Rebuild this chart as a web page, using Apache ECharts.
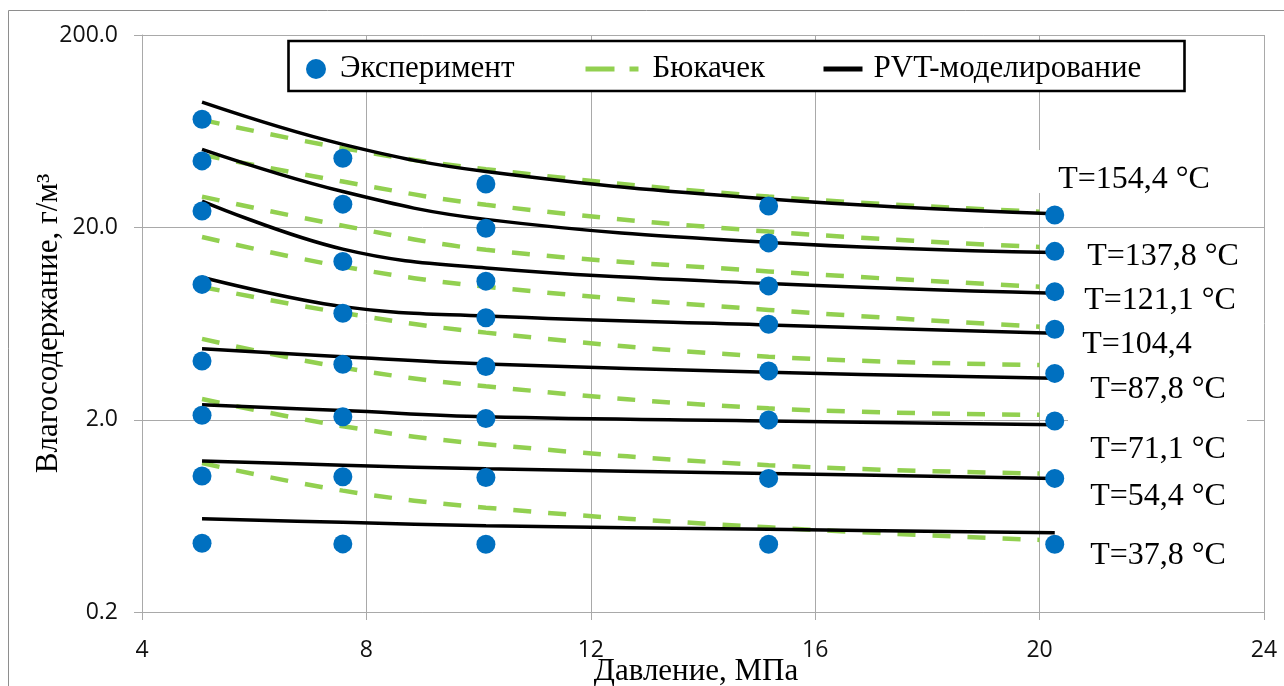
<!DOCTYPE html>
<html>
<head>
<meta charset="utf-8">
<script src="https://cdn.jsdelivr.net/npm/echarts@6/dist/echarts.min.js"></script>
<style>
  html, body { margin: 0; padding: 0; background: #fff; }
  #chart { width: 1284px; height: 686px; }
</style>
</head>
<body>
<div id="chart"></div>
<script>
// Pressure points, MPa
const pressureExp = [5.07, 7.58, 10.13, 15.17, 20.27];
const pressurePvt = [5.07, 7.58, 10.13, 15.17, 20.27];
const pressureBuk = [5.07, 7.58, 10.13, 15.17, 20.0];

// Isotherm captions, from hottest to coldest
const isothermLabels = ['T=154,4 °C', 'T=137,8 °C', 'T=121,1 °C', 'T=104,4',
                        'T=87,8 °C', 'T=71,1 °C', 'T=54,4 °C', 'T=37,8 °C'];

// Water content, g/m3 — measured
const experiment = [
  [73.0, 45.7, 33.6, 25.8, 23.2],
  [44.3, 26.4, 19.8, 16.6, 15.0],
  [24.3, 13.3, 10.5, 9.92, 9.26],
  [10.1, 7.15, 6.78, 6.27, 5.90],
  [4.04, 3.88, 3.78, 3.58, 3.48],
  [2.11, 2.07, 2.03, 1.99, 1.97],
  [1.02, 1.01, 1.00, 0.99, 0.99],
  [0.455, 0.452, 0.450, 0.450, 0.450]
];

// Water content, g/m3 — Bukacek correlation
const bukacek = [
  [72.4, 51.6, 40.1, 28.9, 24.1],
  [47.6, 34.6, 26.2, 19.0, 15.8],
  [28.9, 20.4, 15.3, 11.8, 9.83],
  [17.8, 12.5, 9.83, 7.44, 6.09],
  [9.80, 7.18, 5.67, 4.25, 3.85],
  [5.26, 3.73, 2.98, 2.29, 2.12],
  [2.56, 1.85, 1.49, 1.16, 1.05],
  [1.19, 0.855, 0.697, 0.551, 0.474]
];

// Water content, g/m3 — PVT model
const pvt = [
  [89.5, 54.0, 39.0, 28.1, 23.5],
  [50.9, 30.7, 22.0, 16.7, 14.8],
  [27.4, 15.4, 12.3, 10.2, 9.08],
  [11.0, 7.74, 6.92, 6.22, 5.63],
  [4.68, 4.25, 3.90, 3.53, 3.28],
  [2.39, 2.23, 2.07, 1.97, 1.88],
  [1.22, 1.16, 1.11, 1.05, 0.99],
  [0.61, 0.585, 0.562, 0.538, 0.517]
];

const NAME_EXP = 'Эксперимент';
const NAME_BUK = 'Бюкачек';
const NAME_PVT = 'PVT-моделирование';

const SERIF = '"Liberation Serif", "Times New Roman", serif';
const SANS = '"Open Sans", "Noto Sans", sans-serif';
const GRID_COLOR = '#a9a9a9';

const pairs = (xs, ys) => ys.map((y, i) => [xs[i], y]);

const series = [];
bukacek.forEach(row => series.push({
  type: 'line', name: NAME_BUK, data: pairs(pressureBuk, row),
  symbol: 'none', showSymbol: false, smooth: 0.4, silent: true,
  lineStyle: { color: '#92D050', width: 4.5, type: [18, 17], cap: 'butt' },
  itemStyle: { color: '#92D050' }, z: 2
}));
pvt.forEach(row => series.push({
  type: 'line', name: NAME_PVT, data: pairs(pressurePvt, row),
  symbol: 'none', showSymbol: false, smooth: 0.4, silent: true,
  lineStyle: { color: '#000', width: 3.5 },
  itemStyle: { color: '#000' }, z: 2
}));
series.push({
  type: 'scatter', name: NAME_EXP,
  data: experiment.flatMap(row => pairs(pressureExp, row)),
  symbol: 'circle', symbolSize: 19, silent: true,
  itemStyle: { color: '#0070C0', opacity: 1 }, z: 3
});

const legendText = { fontFamily: SERIF, fontSize: 31, color: '#000', lineHeight: 36 };
const hidden = { color: 'rgba(0,0,0,0)', borderWidth: 0 };

const labelPos = [
  [1134, 180], [1163, 257], [1160, 301], [1137, 345],
  [1158, 390], [1158, 450], [1158, 497], [1158, 556]
];

const graphics = [
  // chart frame
  { type: 'rect', z: 0, silent: true,
    shape: { x: 8.5, y: 10.5, width: 1400, height: 800 },
    style: { fill: 'none', stroke: '#8e8e8e', lineWidth: 1 } },
  // legend frame
  { type: 'rect', z: 3, silent: true,
    shape: { x: 288.5, y: 41, width: 896, height: 50 },
    style: { fill: '#fff', stroke: '#000', lineWidth: 2.6 } },
  // white backing behind two captions
  { type: 'rect', z: 1, silent: true,
    shape: { x: 1034, y: 150, width: 190, height: 43 }, style: { fill: '#fff' } },
  { type: 'rect', z: 1, silent: true,
    shape: { x: 1068, y: 374, width: 179, height: 47 }, style: { fill: '#fff' } }
];
isothermLabels.forEach((t, i) => graphics.push({
  type: 'text', z: 5, silent: true,
  x: labelPos[i][0], y: labelPos[i][1],
  style: { text: t, font: '32px ' + SERIF, fill: '#000', align: 'center', verticalAlign: 'middle' }
}));

const chart = echarts.init(document.getElementById('chart'), null, { renderer: 'canvas' });
chart.setOption({
  animation: false,
  backgroundColor: '#fff',
  grid: { left: 142, right: 20, top: 35, bottom: 74, containLabel: false, outerBoundsMode: 'none' },
  xAxis: {
    type: 'value', min: 4, max: 24, interval: 4,
    name: 'Давление, МПа', nameLocation: 'middle', nameGap: 44, nameMoveOverlap: false,
    nameTextStyle: { fontFamily: SERIF, fontSize: 31, color: '#000', padding: [0, 14, 0, 0] },
    axisLine: { show: true, lineStyle: { color: GRID_COLOR, width: 1 } },
    axisTick: { show: true, length: 8, lineStyle: { color: GRID_COLOR, width: 1 } },
    axisLabel: { fontFamily: SANS, fontSize: 23, color: '#111', margin: 24,
                 padding: [3, 0, 0, 0] },
    splitLine: { show: true, lineStyle: { color: GRID_COLOR, width: 1 } }
  },
  yAxis: {
    type: 'log', logBase: 10, min: 0.2, max: 200, interval: 1,
    name: 'Влагосодержание, г/м³', nameLocation: 'middle', nameGap: 78, nameMoveOverlap: false,
    nameTextStyle: { fontFamily: SERIF, fontSize: 31, color: '#000' },
    axisLine: { show: true, lineStyle: { color: GRID_COLOR, width: 1 } },
    axisTick: { show: true, length: 8, lineStyle: { color: GRID_COLOR, width: 1 } },
    axisLabel: { fontFamily: SANS, fontSize: 23, color: '#111', margin: 24,
                 formatter: v => Number(Number(v).toPrecision(2)).toFixed(1) },
    splitLine: { show: true, lineStyle: { color: GRID_COLOR, width: 1 } },
    minorTick: { show: false }, minorSplitLine: { show: false }
  },
  legend: [
    { data: [NAME_EXP], left: 306, top: 51, padding: 0, itemWidth: 20, itemHeight: 20,
      selectedMode: false, textStyle: Object.assign({ padding: [0, 0, 0, 9] }, legendText) },
    { data: [NAME_BUK], left: 583, top: 51, padding: 0, itemWidth: 53, itemHeight: 20,
      selectedMode: false, itemStyle: hidden,
      lineStyle: { color: '#92D050', width: 5, type: [29, 15], cap: 'butt' },
      textStyle: Object.assign({ padding: [0, 0, 0, 9] }, legendText) },
    { data: [NAME_PVT], left: 821, top: 51, padding: 0, itemWidth: 39, itemHeight: 20,
      selectedMode: false, itemStyle: hidden,
      lineStyle: { color: '#000', width: 5, type: 'solid' },
      textStyle: Object.assign({ padding: [0, 0, 0, 6] }, legendText) }
  ],
  graphic: graphics,
  series: series
});
</script>
</body>
</html>
